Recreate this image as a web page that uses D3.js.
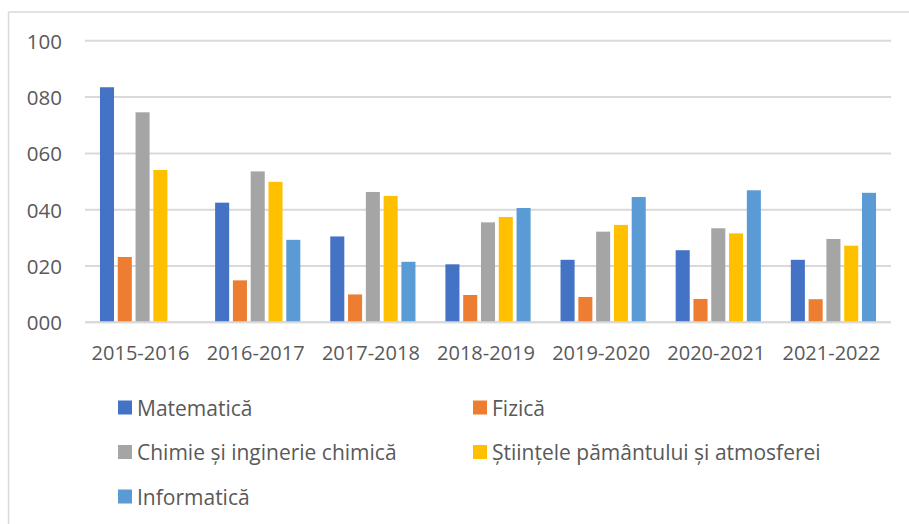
<!DOCTYPE html>
<html>
<head>
<meta charset="utf-8">
<script src="https://cdn.jsdelivr.net/npm/d3@7"></script>
<style>
  html, body { margin: 0; padding: 0; background: #fff; }
  svg { display: block; font-family: "Open Sans", sans-serif; }
</style>
</head>
<body>
<svg id="chart" width="909" height="524"></svg>
<script>
const categories = ["2015-2016", "2016-2017", "2017-2018", "2018-2019", "2019-2020", "2020-2021", "2021-2022"];
const seriesNames = ["Matematică", "Fizică", "Chimie și inginerie chimică", "Științele pământului și atmosferei", "Informatică"];
const matematica = [83.5, 42.5, 30.5, 20.6, 22.2, 25.6, 22.2];
const fizica     = [23.2, 14.9, 9.9, 9.7, 9.0, 8.3, 8.2];
const chimie     = [74.6, 53.6, 46.3, 35.5, 32.2, 33.4, 29.6];
const stiinte    = [54.1, 49.9, 44.9, 37.4, 34.6, 31.6, 27.2];
const informatica = [null, 29.3, 21.5, 40.6, 44.5, 46.9, 46.0];
const yTicks = [0, 20, 40, 60, 80, 100];
const colors = ["#4472C4", "#ED7D31", "#A5A5A5", "#FFC000", "#5B9BD5"];

const seriesValues = [matematica, fizica, chimie, stiinte, informatica];
const svg = d3.select("#chart");

// chart border (top & left visible)
svg.append("line").attr("x1", 8.5).attr("x2", 909).attr("y1", 12).attr("y2", 12)
  .attr("stroke", "#d9d9d9").attr("stroke-width", 1.5);
svg.append("line").attr("x1", 8.5).attr("x2", 8.5).attr("y1", 12).attr("y2", 524)
  .attr("stroke", "#d9d9d9").attr("stroke-width", 1.5);

const plotLeft = 85, plotRight = 891, plotTop = 40.8, plotBottom = 322.3;
const x0 = d3.scaleBand().domain(categories).range([plotLeft, plotRight]).paddingInner(0.26).paddingOuter(0.13);
const x1 = d3.scaleBand().domain(d3.range(seriesNames.length)).range([0, x0.bandwidth()]).paddingInner(0.21).paddingOuter(0);
const y = d3.scaleLinear().domain([0, 100]).range([plotBottom, plotTop]);

// gridlines
svg.append("g").selectAll("line").data(yTicks).join("line")
  .attr("x1", plotLeft).attr("x2", plotRight)
  .attr("y1", d => y(d)).attr("y2", d => y(d))
  .attr("stroke", "#d9d9d9").attr("stroke-width", 2);

// y tick labels
svg.append("g").selectAll("text").data(yTicks).join("text")
  .attr("x", 62).attr("y", d => y(d))
  .attr("text-anchor", "end").attr("dominant-baseline", "central")
  .attr("font-size", 20.5).attr("fill", "#595959")
  .text(d => String(d).padStart(3, "0"));

// bars
const groups = svg.append("g").selectAll("g").data(categories).join("g")
  .attr("transform", d => `translate(${x0(d)},0)`);
groups.selectAll("rect")
  .data((c, ci) => seriesValues.map((vals, si) => ({ si, v: vals[ci] })).filter(d => d.v != null))
  .join("rect")
  .attr("x", d => x1(d.si))
  .attr("width", x1.bandwidth())
  .attr("y", d => y(d.v))
  .attr("height", d => y(0) - y(d.v))
  .attr("fill", d => colors[d.si]);

// baseline
svg.append("line").attr("x1", plotLeft).attr("x2", plotRight).attr("y1", y(0)).attr("y2", y(0))
  .attr("stroke", "#d9d9d9").attr("stroke-width", 2);

// category labels
svg.append("g").selectAll("text").data(categories).join("text")
  .attr("x", d => x0(d) + x0.bandwidth() / 2 - 2)
  .attr("y", 352)
  .attr("text-anchor", "middle").attr("dominant-baseline", "central")
  .attr("font-size", 20).attr("fill", "#595959")
  .text(d => d);

// legend
const legendPos = [[118, 407.5], [473, 407.5], [118, 452], [473, 452], [118, 496.5]];
const lg = svg.append("g").selectAll("g").data(seriesNames).join("g")
  .attr("transform", (d, i) => `translate(${legendPos[i][0]},${legendPos[i][1]})`);
lg.append("rect").attr("x", 0).attr("y", -7).attr("width", 14).attr("height", 14)
  .attr("fill", (d, i) => colors[i]);
lg.append("text").attr("x", 19).attr("y", 0).attr("dominant-baseline", "central")
  .attr("font-size", 21).attr("fill", "#595959").text(d => d);
</script>
</body>
</html>
